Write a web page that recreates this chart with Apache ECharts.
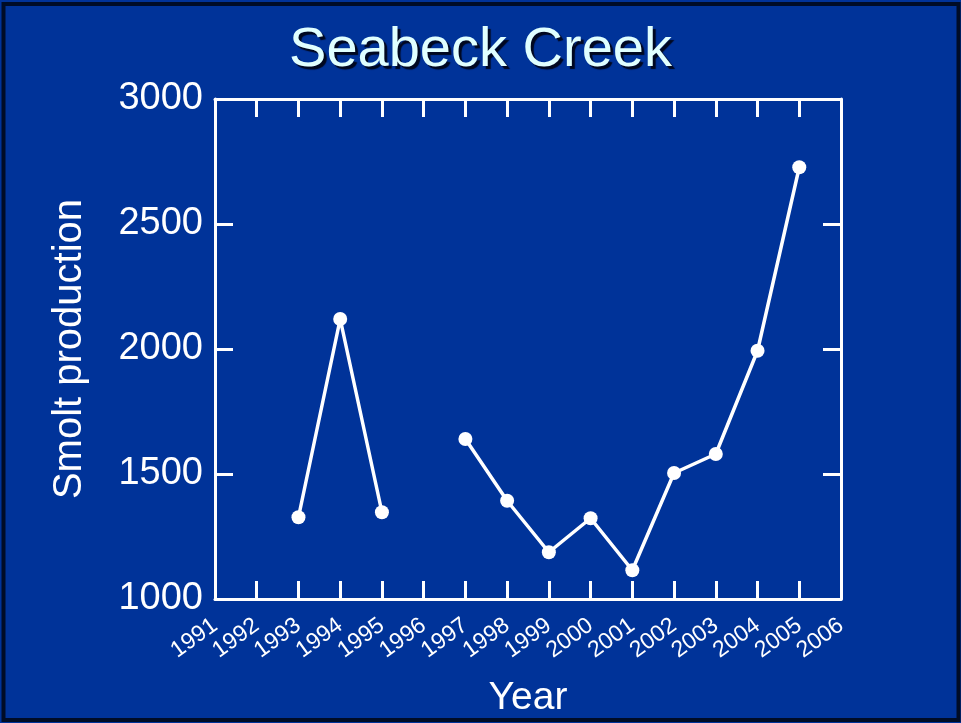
<!DOCTYPE html>
<html>
<head>
<meta charset="utf-8">
<script src="https://cdn.jsdelivr.net/npm/echarts@6/dist/echarts.min.js"></script>
<style>
  html, body { margin: 0; padding: 0; background: #ffffff; }
  #chart { width: 961px; height: 723px; }
</style>
</head>
<body>
<div id="chart"></div>
<script>
  // years on the x axis
  var years = [1993, 1994, 1995, 1996, 1997, 1998, 1999, 2000, 2001, 2002, 2003, 2004, 2005];
  // smolt counts, null = no survey that year
  var smolts = [1327, 2120, 1347, null, 1640, 1393, 1187, 1323, 1115, 1504, 1580, 1993, 2727];
  var xMin = 1991, xMax = 2006;
  var yMin = 1000, yMax = 3000, yStep = 500;

  var blue = '#003399';
  var white = '#ffffff';
  var font = '"Liberation Sans", Arial, sans-serif';

  var points = [];
  for (var i = 0; i < years.length; i++) {
    points.push([years[i], smolts[i] == null ? '-' : smolts[i]]);
  }

  var tickStyle = { show: true, inside: true, length: 18, lineStyle: { color: white, width: 3 } };
  var lineStyle = { show: true, lineStyle: { color: white, width: 3 } };
  var plain = function (v) { return String(v); };

  var chart = echarts.init(document.getElementById('chart'));
  chart.setOption({
    backgroundColor: blue,
    animation: false,
    title: {
      text: 'Seabeck Creek',
      left: 'center',
      top: 18,
      textStyle: {
        color: '#e0ffff',
        fontFamily: font,
        fontSize: 56,
        fontWeight: 'normal',
        textShadowColor: '#000820',
        textShadowOffsetX: 3,
        textShadowOffsetY: 3,
        textShadowBlur: 1
      }
    },
    graphic: [{
      type: 'rect',
      shape: { x: 3.5, y: 4, width: 955, height: 716 },
      style: { fill: null, stroke: '#000c26', lineWidth: 4 }
    }],
    grid: { left: 215, right: 120, top: 99, bottom: 123 },
    xAxis: [{
      type: 'value',
      min: xMin, max: xMax, interval: 1,
      name: 'Year',
      nameLocation: 'middle',
      nameGap: 80,
      nameTextStyle: { color: white, fontSize: 39, fontFamily: font },
      axisLine: lineStyle,
      axisTick: tickStyle,
      splitLine: { show: false },
      axisLabel: { color: white, fontSize: 23, fontFamily: font, rotate: 36, margin: 24, formatter: plain }
    }, {
      type: 'value', position: 'top',
      min: xMin, max: xMax, interval: 1,
      axisLine: lineStyle,
      axisTick: tickStyle,
      splitLine: { show: false },
      axisLabel: { show: false }
    }],
    yAxis: [{
      type: 'value',
      min: yMin, max: yMax, interval: yStep,
      name: 'Smolt production',
      nameLocation: 'middle',
      nameGap: 125,
      nameTextStyle: { color: white, fontSize: 40, fontFamily: font },
      axisLine: lineStyle,
      axisTick: tickStyle,
      splitLine: { show: false },
      axisLabel: { color: white, fontSize: 38, fontFamily: font, margin: 12, formatter: plain }
    }, {
      type: 'value', position: 'right',
      min: yMin, max: yMax, interval: yStep,
      axisLine: lineStyle,
      axisTick: tickStyle,
      splitLine: { show: false },
      axisLabel: { show: false }
    }],
    series: [{
      type: 'line',
      data: points,
      connectNulls: false,
      symbol: 'circle',
      symbolSize: 14,
      itemStyle: { color: white },
      lineStyle: { color: white, width: 3.5 }
    }]
  });
</script>
</body>
</html>
